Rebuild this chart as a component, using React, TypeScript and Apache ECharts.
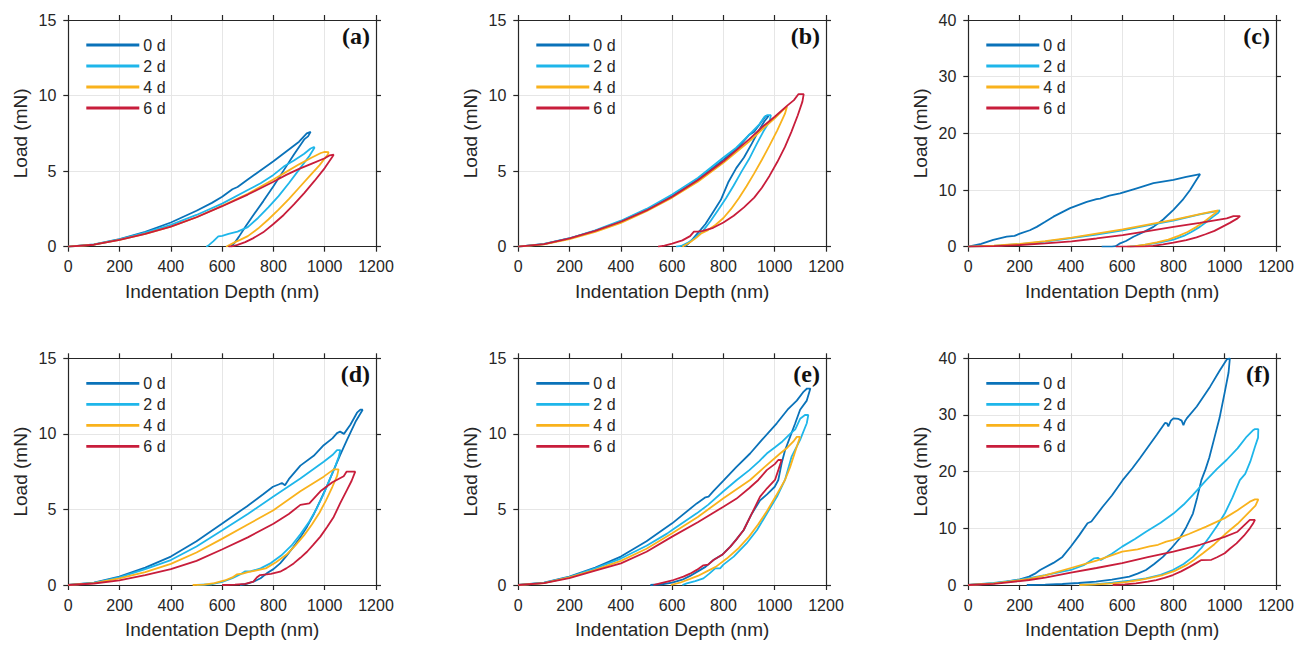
import { useEffect, useRef } from "react";
import * as echarts from "echarts";

type Pt = [number, number];

const days = ["0 d", "2 d", "4 d", "6 d"];
const dayColors = ["#0a72b9", "#1eb6ea", "#f9b21c", "#c81d3b"];
const panelLabels = ["(a)", "(b)", "(c)", "(d)", "(e)", "(f)"];
const yMaxes = [15, 15, 40, 15, 15, 40];
const yIntervals = [5, 5, 10, 5, 5, 10];
const xName = "Indentation Depth (nm)";
const yName = "Load (mN)";

// (a)
const a0: Pt[] = [[0, 0], [100, 0.15], [200, 0.5], [300, 0.98], [400, 1.6], [500, 2.38], [560, 2.9], [600, 3.3], [640, 3.8], [660, 3.95], [700, 4.45], [800, 5.65], [850, 6.3], [900, 6.95], [930, 7.5], [945, 7.6], [935, 7.3], [920, 7.1], [880, 6.1], [840, 5.05], [800, 4.0], [760, 3.0], [720, 2.05], [690, 1.3], [665, 0.65], [648, 0.25], [635, 0]];
const a2: Pt[] = [[0, 0], [100, 0.14], [200, 0.48], [300, 0.93], [400, 1.45], [500, 2.1], [600, 2.85], [700, 3.75], [750, 4.2], [800, 4.75], [840, 5.3], [880, 5.7], [920, 6.15], [945, 6.5], [958, 6.6], [960, 6.55], [940, 6.0], [900, 5.1], [860, 4.2], [820, 3.35], [780, 2.6], [740, 1.9], [700, 1.3], [660, 1.0], [625, 0.85], [600, 0.72], [585, 0.68], [565, 0.35], [548, 0.1], [538, 0]];
const a4: Pt[] = [[0, 0], [100, 0.13], [200, 0.45], [300, 0.85], [400, 1.33], [500, 1.95], [600, 2.7], [700, 3.5], [800, 4.45], [850, 4.95], [900, 5.45], [950, 5.9], [985, 6.2], [1000, 6.28], [1015, 6.25], [1012, 6.1], [980, 5.4], [940, 4.65], [900, 3.9], [860, 3.15], [820, 2.45], [780, 1.8], [740, 1.2], [700, 0.7], [670, 0.45], [650, 0.3], [630, 0.12], [615, 0]];
const a6: Pt[] = [[0, 0], [100, 0.13], [200, 0.45], [300, 0.85], [400, 1.33], [500, 1.95], [600, 2.68], [700, 3.45], [800, 4.3], [850, 4.75], [900, 5.15], [950, 5.5], [1000, 5.85], [1020, 6.05], [1035, 6.1], [1030, 5.95], [1000, 5.2], [960, 4.35], [920, 3.55], [880, 2.8], [840, 2.1], [800, 1.5], [760, 0.95], [720, 0.55], [690, 0.3], [660, 0.12], [640, 0.03], [625, 0]];

// (b)
const b0: Pt[] = [[0, 0], [100, 0.17], [200, 0.55], [300, 1.05], [400, 1.68], [500, 2.45], [600, 3.35], [700, 4.45], [800, 5.75], [860, 6.6], [900, 7.4], [920, 7.6], [950, 8.3], [965, 8.65], [976, 8.65], [960, 8.3], [935, 7.6], [910, 6.8], [880, 5.9], [850, 5.2], [820, 4.3], [790, 3.1], [760, 2.3], [730, 1.5], [700, 0.9], [675, 0.4], [660, 0.15], [650, 0]];
const b2: Pt[] = [[0, 0], [100, 0.18], [200, 0.56], [300, 1.08], [400, 1.72], [500, 2.5], [600, 3.45], [700, 4.55], [800, 5.9], [850, 6.55], [900, 7.4], [940, 8.1], [960, 8.6], [970, 8.7], [985, 8.7], [980, 8.3], [955, 7.6], [930, 6.8], [900, 5.8], [870, 4.95], [840, 4.05], [810, 3.2], [780, 2.45], [750, 1.7], [720, 1.05], [690, 0.6], [660, 0.25], [635, 0.05], [615, 0]];
const b4: Pt[] = [[0, 0], [100, 0.15], [200, 0.5], [300, 0.98], [400, 1.58], [500, 2.35], [600, 3.25], [700, 4.3], [800, 5.55], [900, 6.95], [960, 7.9], [1000, 8.5], [1030, 9.0], [1048, 9.27], [1040, 8.8], [1010, 7.7], [980, 6.7], [950, 5.75], [920, 4.85], [890, 4.0], [860, 3.2], [830, 2.5], [800, 1.9], [770, 1.45], [740, 1.1], [715, 0.9], [695, 0.6], [670, 0.3], [650, 0.1], [640, 0]];
const b6: Pt[] = [[0, 0], [100, 0.17], [200, 0.55], [300, 1.05], [400, 1.65], [500, 2.4], [600, 3.3], [700, 4.4], [800, 5.65], [900, 7.1], [950, 7.9], [1000, 8.6], [1050, 9.35], [1075, 9.7], [1093, 10.1], [1113, 10.1], [1108, 9.6], [1090, 8.7], [1065, 7.6], [1040, 6.6], [1010, 5.6], [980, 4.7], [950, 3.9], [920, 3.25], [880, 2.6], [840, 2.05], [800, 1.6], [760, 1.25], [720, 1.05], [700, 1.0], [685, 1.0], [670, 0.7], [640, 0.42], [600, 0.2], [570, 0.07], [545, 0]];

// (c)
const c0: Pt[] = [[0, 0], [50, 0.5], [97, 1.2], [150, 1.76], [180, 1.9], [201, 2.3], [240, 2.9], [267, 3.5], [300, 4.4], [332, 5.3], [397, 6.8], [462, 7.9], [500, 8.4], [514, 8.5], [550, 9.0], [592, 9.4], [657, 10.3], [722, 11.2], [800, 11.8], [850, 12.3], [880, 12.6], [904, 12.8], [890, 11.8], [865, 10.0], [835, 8.2], [800, 6.5], [760, 4.8], [722, 3.5], [680, 2.5], [644, 1.76], [615, 1.0], [592, 0.6], [575, 0.1], [560, 0], [520, 0]];
const c2: Pt[] = [[0, 0], [100, 0.15], [201, 0.45], [300, 0.9], [403, 1.5], [500, 2.15], [602, 2.9], [700, 3.75], [800, 4.6], [903, 5.7], [960, 6.2], [981, 6.4], [975, 6.0], [955, 5.3], [930, 4.4], [903, 3.5], [870, 2.6], [840, 1.9], [800, 1.25], [750, 0.75], [700, 0.4], [660, 0.15], [630, 0]];
const c4: Pt[] = [[0, 0], [100, 0.17], [201, 0.5], [300, 0.97], [403, 1.6], [500, 2.3], [602, 3.05], [700, 3.9], [800, 4.75], [903, 5.75], [950, 6.2], [975, 6.4], [965, 6.0], [945, 5.3], [920, 4.4], [890, 3.5], [855, 2.6], [820, 1.9], [780, 1.25], [735, 0.75], [690, 0.35], [650, 0.1], [620, 0]];
const c6: Pt[] = [[0, 0], [100, 0.1], [201, 0.3], [300, 0.6], [403, 0.95], [500, 1.45], [602, 2.05], [700, 2.75], [800, 3.5], [903, 4.2], [1008, 5.0], [1034, 5.4], [1060, 5.4], [1050, 5.0], [1020, 4.2], [990, 3.5], [960, 2.8], [925, 2.2], [890, 1.65], [850, 1.15], [800, 0.7], [760, 0.4], [720, 0.15], [690, 0.05], [650, 0], [575, 0]];

// (d)
const d0: Pt[] = [[0, 0], [100, 0.15], [199, 0.55], [300, 1.15], [400, 1.88], [500, 2.9], [599, 4.05], [696, 5.2], [760, 6.0], [798, 6.5], [820, 6.65], [833, 6.75], [845, 6.6], [860, 7.0], [905, 7.9], [957, 8.55], [996, 9.25], [1030, 9.7], [1048, 10.05], [1060, 10.15], [1075, 10.0], [1100, 10.6], [1126, 11.4], [1139, 11.6], [1148, 11.6], [1120, 10.8], [1087, 9.6], [1060, 8.6], [1035, 7.6], [1010, 6.6], [983, 5.6], [958, 4.7], [931, 3.86], [905, 3.15], [879, 2.54], [850, 1.9], [826, 1.43], [800, 1.05], [774, 0.77], [750, 0.45], [722, 0.22], [695, 0.08], [670, 0]];
const d2: Pt[] = [[0, 0], [100, 0.14], [199, 0.5], [300, 1.05], [400, 1.65], [500, 2.55], [599, 3.6], [700, 4.7], [800, 5.85], [905, 7.05], [996, 8.15], [1030, 8.6], [1048, 8.93], [1061, 8.93], [1055, 8.5], [1040, 7.8], [1020, 7.0], [995, 6.0], [970, 5.1], [940, 4.2], [905, 3.35], [870, 2.6], [830, 1.95], [790, 1.45], [750, 1.1], [710, 0.9], [690, 0.9], [670, 0.7], [640, 0.45], [600, 0.2], [560, 0.05], [500, 0]];
const d4: Pt[] = [[0, 0], [100, 0.12], [199, 0.44], [300, 0.85], [400, 1.4], [500, 2.15], [599, 3.05], [700, 4.0], [800, 4.95], [905, 6.2], [996, 7.17], [1035, 7.65], [1054, 7.65], [1048, 7.2], [1030, 6.5], [1005, 5.6], [980, 4.8], [950, 4.0], [920, 3.3], [885, 2.6], [850, 2.0], [810, 1.5], [770, 1.1], [730, 0.95], [700, 0.85], [680, 0.75], [657, 0.7], [640, 0.5], [610, 0.3], [570, 0.12], [530, 0.03], [485, 0]];
const d6: Pt[] = [[0, 0], [100, 0.1], [199, 0.3], [300, 0.65], [400, 1.05], [500, 1.6], [599, 2.35], [700, 3.15], [800, 4.05], [860, 4.7], [905, 5.3], [940, 5.4], [983, 6.2], [1030, 6.8], [1074, 7.2], [1085, 7.5], [1119, 7.5], [1105, 6.9], [1087, 6.3], [1060, 5.4], [1035, 4.5], [1010, 3.85], [983, 3.2], [955, 2.65], [931, 2.2], [905, 1.8], [879, 1.43], [850, 1.1], [826, 0.88], [790, 0.73], [748, 0.66], [735, 0.5], [722, 0.22], [690, 0.08], [650, 0.02], [600, 0]];

// (e)
const e0: Pt[] = [[0, 0], [100, 0.15], [199, 0.55], [300, 1.15], [400, 1.88], [500, 2.9], [600, 4.08], [696, 5.4], [730, 5.8], [742, 5.85], [760, 6.2], [800, 6.9], [850, 7.8], [904, 8.7], [950, 9.6], [1008, 10.7], [1050, 11.6], [1086, 12.2], [1113, 12.8], [1126, 13.0], [1139, 13.0], [1125, 12.2], [1099, 11.6], [1080, 10.7], [1060, 9.8], [1040, 8.9], [1027, 8.05], [1014, 6.95], [1000, 6.5], [970, 6.0], [943, 5.6], [910, 4.7], [879, 3.64], [850, 3.0], [827, 2.54], [795, 2.0], [761, 1.65], [730, 1.2], [700, 0.9], [670, 0.6], [640, 0.35], [600, 0.15], [560, 0.05], [515, 0]];
const e2: Pt[] = [[0, 0], [100, 0.14], [199, 0.52], [300, 1.1], [400, 1.75], [500, 2.6], [580, 3.4], [600, 3.64], [696, 4.74], [740, 5.3], [800, 6.2], [852, 6.95], [901, 7.6], [940, 8.2], [969, 8.7], [1000, 9.1], [1030, 9.5], [1060, 10.0], [1080, 10.3], [1099, 11.0], [1118, 11.25], [1131, 11.25], [1125, 10.7], [1099, 9.6], [1066, 8.5], [1040, 6.95], [1009, 5.85], [970, 4.75], [931, 3.64], [890, 2.75], [840, 1.88], [800, 1.35], [787, 1.1], [768, 1.1], [745, 0.75], [722, 0.44], [690, 0.25], [657, 0.11], [640, 0]];
const e4: Pt[] = [[0, 0], [100, 0.13], [199, 0.5], [300, 1.0], [400, 1.6], [500, 2.4], [600, 3.42], [700, 4.5], [800, 5.74], [904, 6.95], [960, 7.8], [1021, 8.7], [1050, 9.1], [1073, 9.5], [1086, 9.8], [1099, 9.8], [1086, 9.15], [1060, 7.8], [1040, 6.95], [1005, 5.9], [970, 4.9], [935, 4.0], [900, 3.2], [860, 2.45], [813, 1.75], [770, 1.2], [735, 0.9], [700, 0.6], [670, 0.4], [630, 0.15], [595, 0]];
const e6: Pt[] = [[0, 0], [100, 0.12], [199, 0.45], [300, 0.95], [400, 1.43], [500, 2.2], [600, 3.2], [700, 4.15], [800, 5.18], [850, 5.7], [900, 6.4], [936, 6.95], [969, 7.6], [1000, 8.0], [1014, 8.27], [1027, 8.27], [1014, 7.6], [1001, 6.95], [970, 6.4], [943, 5.85], [910, 4.7], [879, 3.64], [850, 3.0], [827, 2.54], [795, 2.0], [761, 1.65], [740, 1.35], [722, 1.3], [696, 1.0], [670, 0.75], [644, 0.55], [605, 0.33], [553, 0.11], [527, 0]];

// (f)
const f0: Pt[] = [[0, 0], [97, 0.3], [150, 0.6], [201, 1.0], [237, 1.47], [260, 2.0], [280, 2.65], [332, 3.9], [367, 4.96], [400, 6.8], [433, 8.8], [465, 10.9], [480, 11.2], [524, 13.8], [560, 15.8], [602, 18.5], [640, 20.6], [670, 22.4], [700, 24.3], [735, 26.5], [767, 28.6], [775, 28.5], [780, 28.0], [790, 29.0], [800, 29.4], [820, 29.3], [832, 29.0], [839, 28.2], [845, 28.9], [852, 29.4], [891, 31.5], [943, 35.0], [980, 37.8], [1008, 39.8], [1020, 40], [1015, 37.5], [1000, 34.0], [980, 29.5], [960, 26.0], [940, 22.5], [925, 20.4], [909, 18.5], [893, 15.5], [876, 12.6], [850, 10.2], [824, 8.2], [790, 6.4], [759, 4.96], [725, 3.7], [693, 2.65], [660, 2.0], [628, 1.47], [560, 0.95], [498, 0.59], [430, 0.35], [367, 0.18], [300, 0.06], [228, 0]];
const f2: Pt[] = [[0, 0], [100, 0.35], [201, 0.95], [237, 1.2], [300, 1.75], [400, 2.65], [450, 3.5], [491, 4.7], [505, 4.8], [517, 4.4], [560, 5.5], [600, 6.77], [650, 8.1], [693, 9.4], [750, 11.0], [800, 12.6], [840, 14.2], [876, 15.9], [928, 18.5], [970, 20.5], [1008, 22.1], [1050, 24.1], [1086, 26.2], [1110, 27.3], [1118, 27.5], [1131, 27.5], [1130, 26.0], [1118, 24.4], [1100, 21.8], [1080, 19.6], [1059, 18.5], [1030, 15.4], [1000, 12.6], [970, 10.4], [941, 8.5], [910, 6.6], [876, 4.96], [840, 3.7], [798, 2.65], [750, 1.8], [693, 1.17], [630, 0.75], [563, 0.4], [500, 0.17], [433, 0]];
const f4: Pt[] = [[0, 0], [100, 0.3], [201, 0.85], [237, 1.06], [300, 1.7], [400, 3.0], [500, 4.3], [600, 5.9], [660, 6.3], [707, 6.8], [740, 7.1], [772, 7.65], [800, 7.95], [860, 9.0], [928, 10.3], [1000, 11.8], [1050, 13.2], [1098, 14.7], [1118, 15.1], [1131, 15.1], [1120, 14.0], [1098, 13.0], [1050, 10.8], [1000, 8.9], [960, 7.2], [915, 5.6], [880, 4.4], [850, 3.5], [805, 2.5], [759, 1.76], [710, 1.25], [667, 0.88], [620, 0.55], [563, 0.3], [500, 0.1], [433, 0]];
const f6: Pt[] = [[0, 0], [100, 0.2], [201, 0.7], [237, 0.88], [300, 1.3], [400, 2.2], [500, 3.0], [600, 3.85], [700, 4.9], [800, 5.9], [904, 7.1], [1000, 8.5], [1050, 9.4], [1098, 11.5], [1118, 11.5], [1110, 10.8], [1098, 10.0], [1075, 8.7], [1046, 7.35], [1020, 6.4], [1000, 5.6], [970, 4.9], [948, 4.45], [909, 4.4], [890, 3.9], [863, 3.2], [830, 2.4], [798, 1.76], [765, 1.25], [733, 0.88], [700, 0.6], [654, 0.3], [610, 0.1], [563, 0]];

const panelCurves: Pt[][][] = [
  [a0, a2, a4, a6],
  [b0, b2, b4, b6],
  [c0, c2, c4, c6],
  [d0, d2, d4, d6],
  [e0, e2, e4, e6],
  [f0, f2, f4, f6]
];

const colLefts = [68.3, 518.3, 968.3];
const rowTops = [20, 358.3];
const plotWidth = 307.7;
const plotHeight = 226.7;

const sans = "'Liberation Sans', Arial, Helvetica, sans-serif";
const ink = "#262626";
const boxLine = { show: true, onZero: false, lineStyle: { color: ink, width: 1.2 } };
const outTick = { show: true, inside: false, length: 5, lineStyle: { color: ink, width: 1.2 } };
const gridLine = { show: true, lineStyle: { color: "#e6e6e6", width: 1 } };
const tickText = { color: ink, fontSize: 16, fontFamily: sans, formatter: (v: number) => String(v) };

function buildOption() {
  const grid: any[] = [];
  const xAxis: any[] = [];
  const yAxis: any[] = [];
  const series: any[] = [];
  const legend: any[] = [];
  const title: any[] = [];

  panelCurves.forEach((curves, i) => {
    const left = colLefts[i % 3];
    const top = rowTops[Math.floor(i / 3)];
    grid.push({ left, top, width: plotWidth, height: plotHeight, show: false });

    xAxis.push(
      {
        gridIndex: i, type: "value", position: "bottom", min: 0, max: 1200, interval: 200,
        name: xName, nameLocation: "middle", nameGap: 35,
        nameTextStyle: { color: ink, fontSize: 19, fontFamily: sans },
        axisLine: boxLine, axisTick: outTick,
        axisLabel: { ...tickText, margin: 12 },
        splitLine: gridLine
      },
      {
        gridIndex: i, type: "value", position: "top", min: 0, max: 1200, interval: 200,
        axisLine: boxLine, axisTick: outTick, axisLabel: { show: false }, splitLine: { show: false }
      }
    );

    yAxis.push(
      {
        gridIndex: i, type: "value", position: "left", min: 0, max: yMaxes[i], interval: yIntervals[i],
        name: yName, nameLocation: "middle", nameGap: 38,
        nameTextStyle: { color: ink, fontSize: 19, fontFamily: sans },
        axisLine: boxLine, axisTick: outTick,
        axisLabel: { ...tickText, margin: 12 },
        splitLine: gridLine
      },
      {
        gridIndex: i, type: "value", position: "right", min: 0, max: yMaxes[i], interval: yIntervals[i],
        axisLine: boxLine, axisTick: outTick, axisLabel: { show: false }, splitLine: { show: false }
      }
    );

    curves.forEach((data, k) => {
      series.push({
        type: "line",
        name: days[k],
        xAxisIndex: 2 * i,
        yAxisIndex: 2 * i,
        data,
        symbol: "none",
        showSymbol: false,
        lineStyle: { color: dayColors[k], width: 1.8 },
        itemStyle: { color: dayColors[k] }
      });
    });

    legend.push({
      data: days,
      orient: "vertical",
      left: left + 18,
      top: top + 17,
      padding: 0,
      itemGap: 5,
      itemWidth: 53,
      itemHeight: 2.8,
      icon: "rect",
      selectedMode: false,
      textStyle: { color: ink, fontSize: 16, fontFamily: sans, lineHeight: 16, padding: [0, 0, 0, -1] }
    });

    title.push({
      text: panelLabels[i],
      right: 1307 - (left + plotWidth) + 6,
      top: top + 4,
      padding: 0,
      textStyle: { color: "#111", fontSize: 24, fontWeight: "bold", fontFamily: "'Liberation Serif', 'Times New Roman', serif" }
    });
  });

  return { animation: false, backgroundColor: "#ffffff", grid, xAxis, yAxis, series, legend, title };
}

export default function App() {
  const chartRef = useRef<HTMLDivElement | null>(null);

  useEffect(() => {
    if (!chartRef.current) {
      return;
    }
    const chart = echarts.init(chartRef.current, undefined, { renderer: "svg" });
    chart.setOption(buildOption());
    return () => {
      chart.dispose();
    };
  }, []);

  return (
    <div
      ref={chartRef}
      style={{ position: "fixed", left: 0, top: 0, width: 1307, height: 653, background: "#ffffff" }}
    />
  );
}
